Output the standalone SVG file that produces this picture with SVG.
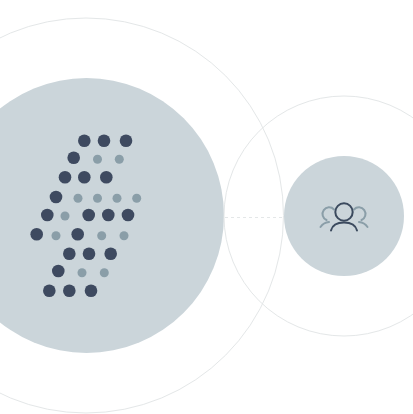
<svg xmlns="http://www.w3.org/2000/svg" width="413" height="414" viewBox="0 0 413 414">
<style>
.ring{fill:none;stroke:#e4e7e8;stroke-width:1}
.disc{fill:#cbd5da}
.d{fill:#3e4a60}
.l{fill:#8a9ea8}
.ic{fill:none;stroke:#3b4a5e;stroke-width:2;stroke-linecap:round}
.ig{fill:none;stroke:#8a9ea8;stroke-width:2;stroke-linecap:round}
</style>
<rect width="413" height="414" fill="#ffffff"/>
<g id="connectors">
<line x1="225" y1="217.500" x2="284" y2="217.500" stroke="#e4e7e8" stroke-width="1" stroke-dasharray="3 3"/>
</g>
<g id="node-left">
<circle class="ring" cx="86" cy="215.500" r="197.500"/>
<circle class="disc" cx="86.500" cy="215.500" r="137.500"/>
<g id="dots">
<circle class="d" cx="84.300" cy="140.700" r="6.300"/><circle class="d" cx="104" cy="140.700" r="6.300"/><circle class="d" cx="126" cy="140.700" r="6.300"/>
<circle class="d" cx="73.700" cy="157.700" r="6.300"/><circle class="l" cx="97.500" cy="159.300" r="4.500"/><circle class="l" cx="119.300" cy="159.300" r="4.500"/>
<circle class="d" cx="65" cy="177.300" r="6.300"/><circle class="d" cx="84.300" cy="177.300" r="6.300"/><circle class="d" cx="106.300" cy="177.300" r="6.300"/>
<circle class="d" cx="56" cy="197" r="6.300"/><circle class="l" cx="78" cy="198.300" r="4.500"/><circle class="l" cx="97.500" cy="198.300" r="4.500"/><circle class="l" cx="117" cy="198.300" r="4.500"/><circle class="l" cx="136.700" cy="198.300" r="4.500"/>
<circle class="d" cx="47.300" cy="215" r="6.300"/><circle class="l" cx="65" cy="216" r="4.500"/><circle class="d" cx="88.700" cy="215" r="6.300"/><circle class="d" cx="108.300" cy="215" r="6.300"/><circle class="d" cx="128" cy="215" r="6.300"/>
<circle class="d" cx="36.700" cy="234.300" r="6.300"/><circle class="l" cx="56" cy="235.700" r="4.500"/><circle class="d" cx="77.700" cy="234.300" r="6.300"/><circle class="l" cx="101.700" cy="235.700" r="4.500"/><circle class="l" cx="124" cy="235.700" r="4.500"/>
<circle class="d" cx="69.300" cy="253.700" r="6.300"/><circle class="d" cx="89" cy="253.700" r="6.300"/><circle class="d" cx="110.700" cy="253.700" r="6.300"/>
<circle class="d" cx="58.300" cy="271" r="6.300"/><circle class="l" cx="82" cy="272.700" r="4.500"/><circle class="l" cx="104.300" cy="272.700" r="4.500"/>
<circle class="d" cx="49.300" cy="290.700" r="6.300"/><circle class="d" cx="69.300" cy="290.700" r="6.300"/><circle class="d" cx="91" cy="290.700" r="6.300"/>
</g>
</g>
<g id="node-right">
<circle class="ring" cx="344" cy="216" r="120"/>
<circle class="disc" cx="344" cy="216" r="60"/>
<g id="icon">
<path class="ig" d="M334 209.500A6.600 6.600 0 1 0 326.500 220"/>
<path class="ig" d="M354 209.500A6.600 6.600 0 1 1 361.500 220"/>
<path class="ig" d="M320.500 227Q323.500 222.500 329 222"/>
<path class="ig" d="M367.500 227Q364.500 222.500 359 222"/>
<circle class="ic" cx="344" cy="212" r="8.700"/>
<path class="ic" d="M331 230.500Q333 222.500 344 222.500Q355 222.500 357 230.500"/>
</g>
</g>
</svg>
